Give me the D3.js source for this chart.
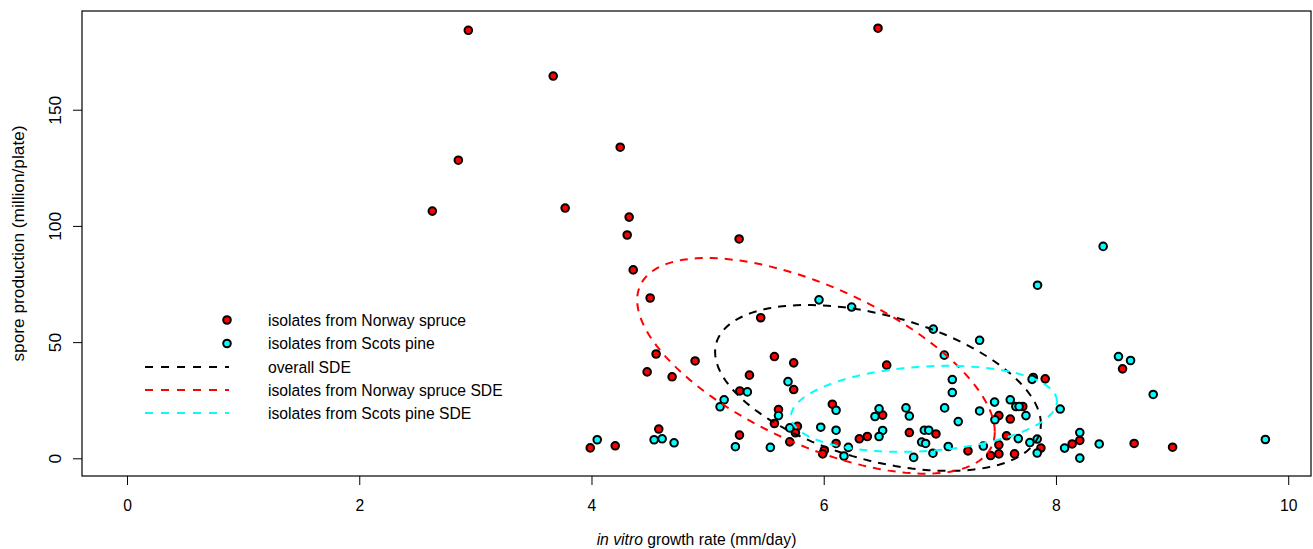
<!DOCTYPE html>
<html>
<head>
<meta charset="utf-8">
<script src="https://cdn.jsdelivr.net/npm/d3@7"></script>
<style>
  body { margin: 0; background: #fff; }
  svg text { font-family: "Liberation Sans", Arial, Helvetica, sans-serif; fill: #000; }
</style>
</head>
<body>
<div id="chart"></div>
<script>
// isolates from Norway spruce: [growth rate, spore production]
const spruceX = [2.935, 3.666, 2.849, 2.625, 3.769, 4.243, 4.320, 4.303, 4.355, 4.501,
  6.463, 5.267, 5.453, 4.888, 4.552, 4.475, 4.690, 4.575, 3.985, 4.200,
  5.571, 5.737, 5.356, 5.737, 5.273, 5.606, 5.571, 5.769, 5.752, 6.070,
  6.102, 5.703, 5.270, 6.001, 5.987, 6.503, 6.371, 6.302, 6.733, 6.962,
  6.538, 7.710, 7.504, 7.602, 7.238, 7.504, 7.504, 7.433, 7.570, 7.639,
  7.866, 7.903, 8.201, 8.135, 8.569, 8.669, 9.000];
const spruceY = [184.4, 164.7, 128.5, 106.6, 107.9, 134.1, 104.0, 96.3, 81.3, 69.2,
  185.3, 94.6, 60.7, 42.1, 45.1, 37.4, 35.3, 12.8, 4.7, 5.6,
  44.0, 41.3, 36.0, 29.8, 29.2, 21.2, 15.2, 14.0, 11.2, 23.5,
  6.6, 7.3, 10.2, 3.7, 2.1, 18.8, 9.6, 8.6, 11.3, 10.7,
  40.3, 22.5, 18.6, 17.1, 3.4, 6.0, 2.1, 1.4, 9.9, 2.1,
  4.6, 34.4, 7.9, 6.4, 38.7, 6.6, 5.0];

// isolates from Scots pine
const pineX = [4.045, 4.535, 4.604, 4.707, 5.955, 5.688, 5.338, 5.138, 5.103, 5.606,
  5.703, 5.970, 6.102, 6.102, 5.235, 5.536, 6.208, 6.170, 6.472, 6.437,
  6.503, 6.472, 6.704, 6.733, 6.862, 6.900, 6.839, 6.873, 6.936, 6.770,
  7.037, 7.103, 7.103, 7.154, 7.068, 6.236, 6.939, 7.338, 7.034, 7.338,
  7.467, 7.602, 7.650, 7.678, 7.737, 7.470, 8.032, 7.370, 7.671, 7.771,
  7.834, 7.834, 7.800, 7.790, 8.201, 8.070, 8.201, 8.402, 7.837, 8.534,
  8.638, 8.833, 9.799, 8.368];
const pineY = [8.2, 8.2, 8.6, 6.9, 68.4, 33.2, 28.8, 25.4, 22.4, 18.6,
  13.3, 13.6, 20.9, 12.3, 5.2, 4.9, 4.9, 1.2, 21.5, 18.2,
  12.2, 9.6, 21.9, 18.4, 12.3, 12.3, 7.2, 6.6, 2.4, 0.6,
  21.9, 28.5, 34.1, 16.0, 5.3, 65.3, 55.8, 51.0, 44.6, 20.6,
  24.4, 25.4, 22.5, 22.5, 18.6, 16.8, 21.4, 5.5, 8.7, 7.0,
  8.5, 2.5, 35.0, 34.2, 11.3, 4.6, 0.3, 91.4, 74.7, 44.0,
  42.3, 27.7, 8.3, 6.4];

// standard deviational ellipses: centre, spread along x and y, correlation
const sdeNames = ['overall', 'spruce', 'pine'];
const sdeCentre = [[6.463, 30.5], [5.929, 40.0], [6.859, 21.5]];
const sdeSpread = [[1.403, 35.7], [1.540, 46.4], [1.145, 18.5]];
const sdeCorr = [-0.434, -0.611, 0.174];
const sdeColors = ['#000000', '#ff0000', '#00ffff'];

const xTicks = [0, 2, 4, 6, 8, 10];
const yTicks = [0, 50, 100, 150];

const legendLabels = [
  'isolates from Norway spruce',
  'isolates from Scots pine',
  'overall SDE',
  'isolates from Norway spruce SDE',
  'isolates from Scots pine SDE'
];

const W = 1313, H = 549;
const box = { left: 82, right: 1311, top: 11, bottom: 476 };
const fontSize = 15.7;
const stretch = 1.1; // text looks a bit taller than wide in the original
const pointR = 3.8;

const svg = d3.select('#chart').append('svg')
  .attr('width', W)
  .attr('height', H);

const x = d3.scaleLinear().domain([-0.392, 10.192]).range([box.left, box.right]);
const y = d3.scaleLinear().domain([-7.4, 192.7]).range([box.bottom, box.top]);

// Points
const spruce = spruceX.map((v, i) => [v, spruceY[i]]);
const pine = pineX.map((v, i) => [v, pineY[i]]);

function drawPoints(data, fill) {
  svg.append('g')
    .selectAll('circle')
    .data(data)
    .join('circle')
    .attr('cx', d => x(d[0]))
    .attr('cy', d => y(d[1]))
    .attr('r', pointR)
    .attr('fill', fill)
    .attr('stroke', '#000')
    .attr('stroke-width', 2);
}
drawPoints(spruce, '#ff0000');
drawPoints(pine, '#00ffff');

// Ellipses (drawn over the points, as lines are added last)
const angles = d3.range(0, 361, 3).map(a => a * Math.PI / 180);
const line = d3.line().x(d => x(d[0])).y(d => y(d[1]));

sdeNames.forEach((name, i) => {
  const [cx, cy] = sdeCentre[i];
  const [sx, sy] = sdeSpread[i];
  const r = sdeCorr[i];
  const pts = angles.map(t => [
    cx + sx * Math.cos(t),
    cy + sy * (r * Math.cos(t) + Math.sqrt(1 - r * r) * Math.sin(t))
  ]);
  svg.append('path')
    .attr('class', 'sde-' + name)
    .attr('d', line(pts))
    .attr('fill', 'none')
    .attr('stroke', sdeColors[i])
    .attr('stroke-width', 2)
    .attr('stroke-dasharray', '8,7');
});

// Box
svg.append('rect')
  .attr('x', box.left)
  .attr('y', box.top)
  .attr('width', box.right - box.left)
  .attr('height', box.bottom - box.top)
  .attr('fill', 'none')
  .attr('stroke', '#000')
  .attr('stroke-width', 1.2);

// X axis
const xAxis = svg.append('g');
xAxis.selectAll('line')
  .data(xTicks)
  .join('line')
  .attr('x1', d => x(d)).attr('x2', d => x(d))
  .attr('y1', box.bottom).attr('y2', box.bottom + 9)
  .attr('stroke', '#000');
xAxis.selectAll('text')
  .data(xTicks)
  .join('text')
  .attr('transform', d => `translate(${x(d)},511) scale(1,${stretch})`)
  .attr('text-anchor', 'middle')
  .style('font-size', fontSize + 'px')
  .text(d => d);

// Y axis
const yAxis = svg.append('g');
yAxis.selectAll('line')
  .data(yTicks)
  .join('line')
  .attr('x1', box.left).attr('x2', box.left - 9)
  .attr('y1', d => y(d)).attr('y2', d => y(d))
  .attr('stroke', '#000');
yAxis.selectAll('text')
  .data(yTicks)
  .join('text')
  .attr('transform', d => `translate(61,${y(d)}) rotate(-90) scale(${stretch},1)`)
  .attr('text-anchor', 'middle')
  .style('font-size', fontSize + 'px')
  .text(d => d);

// Axis titles
const xTitle = svg.append('text')
  .attr('transform', `translate(${(box.left + box.right) / 2},545) scale(1,${stretch})`)
  .attr('text-anchor', 'middle')
  .style('font-size', fontSize + 'px');
xTitle.append('tspan').style('font-style', 'italic').text('in vitro');
xTitle.append('tspan').text(' growth rate (mm/day)');

svg.append('text')
  .attr('transform', `translate(24,${(box.top + box.bottom) / 2}) rotate(-90) scale(${stretch},1)`)
  .attr('text-anchor', 'middle')
  .style('font-size', fontSize + 'px')
  .text('spore production (million/plate)');

// Legend
const legendY = [320, 343.5, 367, 390, 413];
const legend = svg.append('g');
legendLabels.forEach((label, i) => {
  const ly = legendY[i];
  if (i < 2) {
    legend.append('circle')
      .attr('cx', 227).attr('cy', ly)
      .attr('r', pointR)
      .attr('fill', i === 0 ? '#ff0000' : '#00ffff')
      .attr('stroke', '#000')
      .attr('stroke-width', 2);
  } else {
    legend.append('line')
      .attr('x1', 145).attr('x2', 229)
      .attr('y1', ly).attr('y2', ly)
      .attr('stroke', sdeColors[i - 2])
      .attr('stroke-width', 2)
      .attr('stroke-dasharray', '8,8');
  }
  legend.append('text')
    .attr('transform', `translate(268,${ly + 5.5}) scale(1,${stretch})`)
    .style('font-size', fontSize + 'px')
    .text(label);
});
</script>
</body>
</html>
